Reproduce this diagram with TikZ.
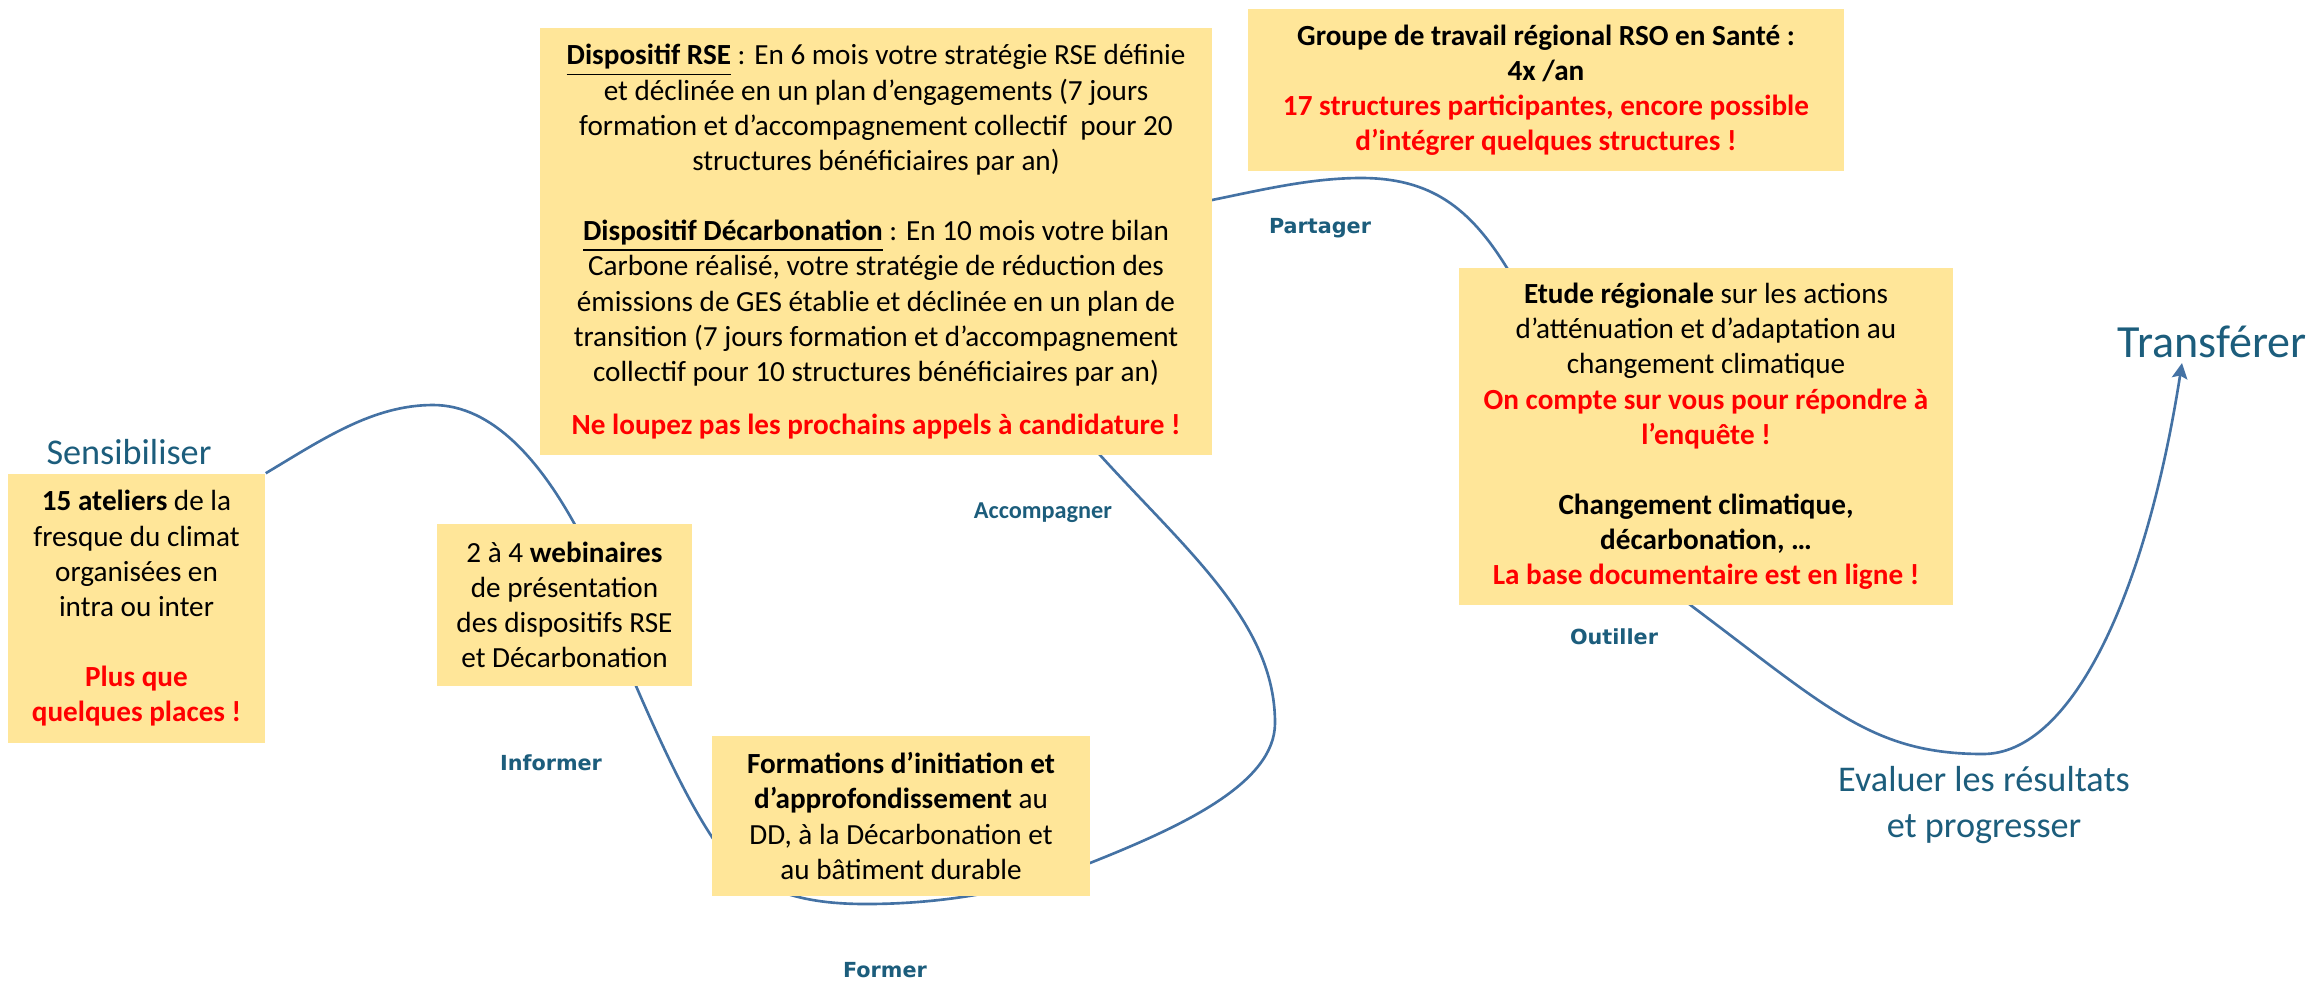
\documentclass[tikz,border=0pt]{standalone}
\usepackage{fontspec}
\setmainfont{Carlito}
\newfontfamily\verbfont{DejaVu Sans}
\usepackage{xcolor}
\usetikzlibrary{arrows.meta}
\usetikzlibrary{backgrounds}

\definecolor{boxyellow}{HTML}{FFE699}
\definecolor{curveblue}{HTML}{4472A4}
\definecolor{stageblue}{HTML}{1C5D7C}
\definecolor{alertred}{HTML}{FF0000}
\newcommand{\redbold}[1]{\textcolor{alertred}{\textbf{#1}}}

\begin{document}
\begin{tikzpicture}[x=0.01cm, y=-0.01cm,
  box/.style={fill=boxyellow, align=center, inner sep=0pt, font=\fontsize{8.3}{10}\selectfont},
  stage/.style={text=stageblue, align=center, inner sep=0pt, font=\fontsize{10.3}{13}\selectfont},
  verb/.style={text=stageblue, inner sep=0pt, font=\verbfont\bfseries\fontsize{5.9}{7}\selectfont}]

\useasboundingbox (0,0) rectangle (2318,987);

\node[box, minimum width=2.57cm, minimum height=2.69cm] (1) at (136.5,608.5) {\textbf{15 ateliers} de la\\ fresque du climat\\ organisées en\\ intra ou inter\\[10pt] \redbold{Plus que}\\ \redbold{quelques places !}};
\node[box, minimum width=2.55cm, minimum height=1.62cm] (2) at (564.5,605) {2 à 4 \textbf{webinaires}\\ de présentation\\ des dispositifs RSE\\ et Décarbonation};
\node[box, minimum width=6.72cm, minimum height=4.27cm] (3) at (876,241.5) {\underline{\textbf{Dispositif RSE}} : En 6 mois votre stratégie RSE définie\\ et déclinée en un plan d’engagements (7 jours\\ formation et d’accompagnement collectif\ \ pour 20\\ structures bénéficiaires par an)\\[10pt] \underline{\textbf{Dispositif Décarbonation}} : En 10 mois votre bilan\\ Carbone réalisé, votre stratégie de réduction des\\ émissions de GES établie et déclinée en un plan de\\ transition (7 jours formation et d’accompagnement\\ collectif pour 10 structures bénéficiaires par an)\\[5pt] \redbold{Ne loupez pas les prochains appels à candidature !}};
\node[box, minimum width=5.96cm, minimum height=1.62cm] (4) at (1546,90) {\textbf{Groupe de travail régional RSO en Santé :}\\ \textbf{4x /an}\\ \redbold{17 structures participantes, encore possible}\\ \redbold{d’intégrer quelques structures !}};
\node[box, minimum width=4.94cm, minimum height=3.37cm] (5) at (1706,436.5) {\textbf{Etude régionale} sur les actions\\ d’atténuation et d’adaptation au\\ changement climatique\\ \redbold{On compte sur vous pour répondre à}\\ \redbold{l’enquête !}\\[10pt] \textbf{Changement climatique,}\\ \textbf{décarbonation, …}\\ \redbold{La base documentaire est en ligne !}};
\node[box, minimum width=3.78cm, minimum height=1.60cm] (6) at (901,816) {\textbf{Formations d’initiation et}\\ \textbf{d’approfondissement} au\\ DD, à la Décarbonation et\\ au bâtiment durable};

\node[stage, anchor=base] (sensibiliser) at (129,464) {Sensibiliser};
\node[stage, anchor=base, font=\fontsize{13.1}{16}\selectfont] (transferer) at (2212,357) {Transférer};
\node[stage] (evaluer) at (1984,805) {Evaluer les résultats\\ et progresser};

\node[verb] (informer) at (551,763) {Informer};
\node[verb] (former) at (885,970) {Former};
\node[verb, font=\bfseries\fontsize{6.9}{8}\selectfont] (accompagner) at (1043,513) {Accompagner};
\node[verb] (partager) at (1320,228) {Partager};
\node[verb] (outiller) at (1614,637) {Outiller};

\coordinate (tip) at (2182,363);

\begin{scope}[on background layer]
\draw[curveblue, line width=0.75pt, -{Stealth[length=4.4pt, width=4.4pt, inset=0.8pt]}]
  (1.north east) .. controls (323,439) and (373,405) .. (433,405)
  .. controls (493,405) and (540,462) .. (574,523)
  .. controls (603,575) and (612,631) .. (636,686)
  .. controls (660,741) and (685,796) .. (712,837)
  .. controls (749,893) and (806,904) .. (866,904)
  .. controls (936,904) and (1016,893) .. (1090,863)
  .. controls (1183,826) and (1275,783) .. (1275,723)
  .. controls (1275,623) and (1187,551) .. (1100,455)
  .. controls (1020,366) and (1094,224) .. (1212,200)
  .. controls (1261,190) and (1311,178) .. (1361,178)
  .. controls (1431,178) and (1470,208) .. (1507,268)
  .. controls (1560,353) and (1613,547) .. (1693,607)
  .. controls (1829,709) and (1873,754) .. (1983,754)
  .. controls (2070,754) and (2145,600) .. (tip);
\end{scope}

\end{tikzpicture}
\end{document}
